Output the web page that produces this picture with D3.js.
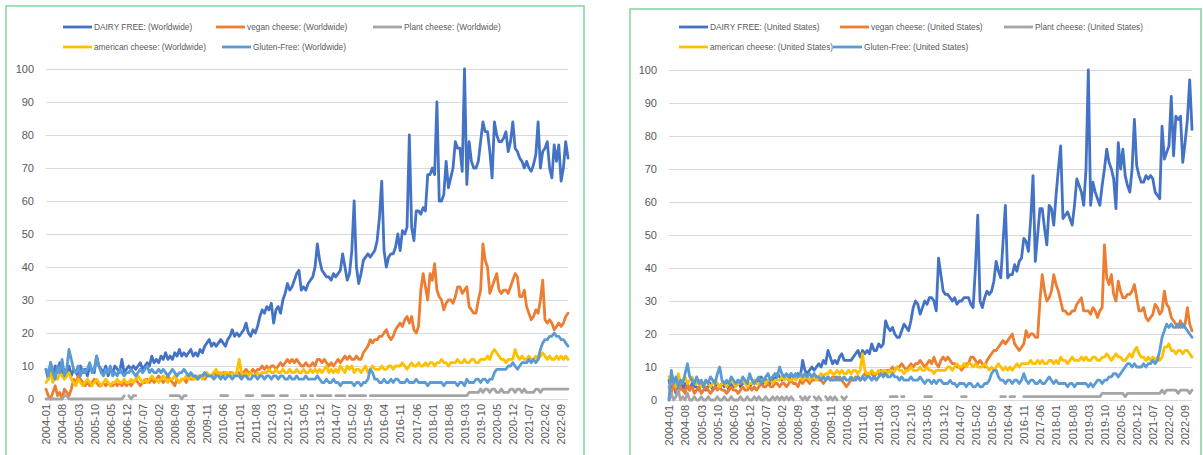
<!DOCTYPE html>
<html>
<head>
<meta charset="utf-8">
<script src="https://cdn.jsdelivr.net/npm/d3@7/dist/d3.min.js"></script>
<style>
  body { margin: 0; background: #fff; }
  svg { display: block; font-family: "Liberation Sans", Arial, sans-serif; }
  .axis .domain { display: none; }
  .axis--y line { stroke: #d9d9d9; }
  .axis text { fill: #595959; }
  .legend text { fill: #595959; font-size: 8.3px; }
  .series { fill: none; stroke-width: 2.8; stroke-linejoin: round; stroke-linecap: round; }
</style>
</head>
<body>
<svg id="chart" width="1203" height="455"></svg>
<script>
// monthly categories 2004-01 .. 2022-12
const months = d3.utcMonths(new Date(Date.UTC(2004, 0, 1)), new Date(Date.UTC(2023, 0, 1)))
  .map(d3.utcFormat('%Y-%m'));

const tickLabels = [
  '2004-01', '2004-08', '2005-03', '2005-10', '2006-05', '2006-12', '2007-07', '2008-02',
  '2008-09', '2009-04', '2009-11', '2010-06', '2011-01', '2011-08', '2012-03', '2012-10',
  '2013-05', '2013-12', '2014-07', '2015-02', '2015-09', '2016-04', '2016-11', '2017-06',
  '2018-01', '2018-08', '2019-03', '2019-10', '2020-05', '2020-12', '2021-07', '2022-02',
  '2022-09'
];
const yTicks = [0, 10, 20, 30, 40, 50, 60, 70, 80, 90, 100];

const seriesNames = ['DAIRY FREE', 'vegan cheese', 'Plant cheese', 'american cheese', 'Gluten-Free'];
const seriesColors = ['#4472C4', '#ED7D31', '#A5A5A5', '#FFC000', '#5B9BD5'];

// ---- Worldwide (one row per year) ----
const dairyFreeWorld = [
  9, 6, 11, 7, 10, 8, 11, 7, 9, 8, 10, 7,
  9, 8, 7, 10, 8, 9, 7, 10, 9, 8, 13, 10,
  9, 8, 10, 7, 9, 8, 10, 9, 8, 12, 8, 9,
  10, 9, 10, 9, 10, 11, 9, 10, 11, 10, 13, 11,
  12, 11, 13, 12, 14, 12, 13, 12, 14, 13, 15, 13,
  14, 13, 14, 15, 13, 14, 13, 15, 14, 16, 17, 18,
  16, 17, 16, 17, 18, 17, 16, 18, 19, 21, 19, 20,
  19, 20, 21, 23, 20, 19, 21, 20, 22, 25, 27, 26,
  28, 27, 29, 23, 27, 28, 26, 30, 32, 35, 33, 34,
  36, 38, 39, 33, 34, 33, 35, 36, 37, 40, 47, 42,
  39, 38, 37, 37, 36, 38, 37, 38, 39, 44, 40, 36,
  38, 45, 60, 40, 35, 38, 42, 43, 44, 43, 44, 45,
  48, 55, 66, 45, 40, 43, 44, 44, 46, 50, 45, 51,
  50, 52, 80, 52, 48, 57, 57, 56, 58, 57, 68, 68,
  70, 68, 90, 60, 60, 62, 72, 64, 67, 70, 78, 76,
  76, 69, 100, 65, 78, 72, 70, 70, 72, 78, 84, 81,
  81, 75, 67, 84, 80, 78, 78, 79, 81, 75, 78, 84,
  76, 75, 73, 72, 70, 72, 70, 69, 71, 74, 84, 70,
  75, 76, 78, 70, 67, 77, 72, 77, 66, 70, 78, 73
];
const veganWorld = [
  3, 1, 0, 2, 4, 1, 2, 0, 3, 2, 1, 3,
  6, 5, 7, 6, 5, 4, 5, 4, 5, 6, 5, 4,
  4, 5, 4, 5, 4, 4, 5, 4, 5, 4, 5, 4,
  5, 4, 5, 6, 5, 4, 5, 5, 6, 5, 6, 5,
  6, 7, 6, 5, 6, 7, 6, 5, 4, 6, 5, 6,
  6, 5, 7, 6, 6, 7, 6, 7, 7, 6, 7, 7,
  7, 8, 7, 8, 7, 8, 8, 7, 8, 8, 7, 8,
  8, 7, 8, 9, 8, 8, 9, 8, 9, 9, 10, 9,
  10, 9, 10, 10, 9, 10, 11, 10, 11, 12, 11, 12,
  11, 12, 11, 10, 10, 11, 10, 10, 11, 10, 12, 12,
  11, 12, 11, 10, 11, 10, 11, 12, 11, 12, 13, 12,
  13, 12, 12, 13, 12, 12, 14, 15, 16, 18, 17, 18,
  18, 19, 19, 20, 21, 19, 18, 19, 21, 22, 23, 22,
  24, 25, 23, 25, 21, 20, 22, 33, 38, 34, 30, 38,
  36, 41, 33, 31, 30, 27, 29, 30, 30, 29, 31, 34,
  34, 32, 33, 34, 28, 27, 26, 26, 30, 33, 47, 42,
  40, 32, 34, 36, 38, 33, 32, 33, 33, 32, 34, 36,
  38, 37, 31, 31, 33, 28, 26, 24, 25, 27, 26, 30,
  36, 24, 23, 24, 23, 21, 22, 23, 22, 23, 25, 26
];
const plantWorld = [
  0, 0, 0, 0, 0, 0, 0, 0, 1, 1, 0, 0,
  0, 0, 0, 0, 0, 0, 0, 0, 0, 0, 0, 0,
  0, 0, 0, 0, 0, 0, 0, 0, 0, 0, 1, null,
  1, 0, 1, 1, null, null, null, null, null, null, null, null,
  null, null, null, null, null, null, 1, 1, 1, 1, 1, 0,
  1, 1, null, null, null, null, null, null, null, null, null, null,
  null, null, null, null, 1, 1, 1, 1, null, null, null, null,
  null, null, null, 1, 1, 1, 1, null, null, null, 1, 1,
  1, 1, 1, 1, null, null, 1, 1, 1, 1, null, null,
  null, null, null, 1, 1, 1, null, 1, 1, null, 1, 1,
  1, 1, 1, 1, 1, null, 1, 1, 1, 1, 1, null,
  1, 1, 1, 1, 1, 1, 1, 1, null, 1, 1, 1,
  1, 1, 1, 1, 1, 1, 1, 1, 1, 1, 1, 1,
  1, 1, 1, 1, 1, 1, 1, 1, 1, 1, 1, 1,
  1, 1, 1, 1, 1, 1, 1, 1, 1, 1, 1, 1,
  1, 1, 1, 1, 2, 2, 2, 2, 2, 3, 2, 3,
  3, 2, 3, 3, 2, 2, 3, 2, 2, 2, 3, 3,
  2, 3, 3, 2, 3, 2, 2, 2, 2, 3, 3, 2,
  3, 3, 3, 3, 3, 3, 3, 3, 3, 3, 3, 3
];
const americanWorld = [
  5, 6, 8, 5, 7, 6, 8, 7, 6, 7, 8, 6,
  5, 4, 6, 5, 4, 5, 6, 5, 4, 5, 6, 5,
  4, 5, 6, 5, 4, 5, 5, 6, 5, 5, 6, 5,
  5, 6, 5, 6, 7, 6, 5, 6, 5, 6, 7, 6,
  6, 5, 6, 7, 6, 5, 6, 6, 7, 6, 5, 6,
  6, 7, 6, 7, 6, 6, 7, 7, 6, 7, 8, 7,
  7, 8, 9, 7, 8, 7, 8, 8, 7, 8, 7, 8,
  12, 8, 7, 8, 7, 8, 7, 7, 8, 7, 8, 8,
  8, 9, 8, 8, 9, 8, 8, 9, 8, 8, 9, 8,
  8, 9, 8, 8, 9, 8, 8, 9, 8, 9, 8, 9,
  8, 9, 10, 8, 9, 8, 9, 8, 10, 9, 8, 10,
  9, 10, 8, 9, 9, 8, 9, 10, 8, 9, 10, 9,
  9, 9, 10, 9, 9, 10, 10, 9, 10, 10, 10, 11,
  10, 9, 10, 11, 10, 10, 11, 10, 10, 11, 10, 11,
  11, 10, 11, 11, 12, 11, 11, 10, 11, 11, 11, 12,
  11, 11, 12, 11, 11, 12, 12, 11, 11, 12, 12, 12,
  13, 12, 14, 15, 14, 13, 12, 12, 11, 12, 12, 12,
  15, 13, 12, 13, 12, 12, 13, 12, 12, 13, 12, 13,
  14, 13, 12, 13, 12, 12, 13, 12, 13, 12, 13, 12
];
const glutenWorld = [
  9, 7, 11, 8, 6, 10, 8, 12, 7, 9, 15, 12,
  9, 8, 10, 7, 9, 8, 9, 11, 8, 9, 13, 10,
  8, 7, 9, 8, 10, 7, 8, 7, 9, 8, 7, 8,
  8, 9, 8, 7, 8, 9, 8, 9, 10, 8, 9, 8,
  8, 9, 8, 9, 8, 7, 8, 9, 8, 7, 8, 8,
  9, 8, 7, 8, 7, 7, 6, 7, 7, 8, 7, 7,
  7, 6, 7, 7, 6, 7, 6, 7, 7, 6, 7, 7,
  7, 6, 7, 7, 6, 6, 7, 7, 6, 7, 7, 6,
  7, 7, 6, 7, 7, 6, 7, 7, 6, 6, 7, 6,
  6, 7, 6, 6, 6, 7, 6, 6, 6, 6, 7, 6,
  5, 5, 6, 5, 5, 6, 5, 5, 4, 5, 5, 5,
  5, 5, 4, 5, 5, 4, 5, 5, 6, 9, 8, 6,
  6, 5, 5, 6, 5, 5, 6, 5, 6, 6, 5, 5,
  5, 6, 5, 5, 5, 6, 5, 5, 5, 5, 4, 5,
  5, 5, 5, 5, 5, 4, 5, 5, 5, 5, 5, 4,
  5, 5, 4, 6, 5, 5, 5, 6, 6, 5, 6, 6,
  5, 6, 6, 8, 9, 9, 9, 9, 9, 10, 10, 11,
  10, 9, 10, 11, 11, 11, 12, 11, 12, 11, 12, 15,
  17, 18, 18, 19, 19, 20, 19, 19, 18, 18, 17, 16
];

// ---- United States (one row per year) ----
const dairyFreeUS = [
  6, 3, 5, 2, 4, 6, 3, 5, 4, 3, 5, 4,
  4, 3, 5, 4, 3, 4, 5, 3, 4, 5, 4, 5,
  4, 5, 3, 5, 4, 5, 6, 4, 5, 6, 5, 4,
  5, 6, 5, 6, 7, 5, 6, 6, 5, 7, 6, 8,
  7, 6, 7, 7, 6, 8, 7, 7, 8, 7, 12, 9,
  8, 9, 10, 9, 10, 11, 10, 12, 11, 15, 13, 11,
  12, 11, 13, 14, 12, 12, 12, 12, 13, 14, 15, 13,
  15, 14, 15, 14, 17, 15, 15, 17, 16, 17, 24, 22,
  21, 22, 20, 19, 19, 21, 23, 22, 21, 24, 28, 30,
  29, 26, 28, 30, 29, 31, 31, 30, 27, 43, 38, 33,
  32, 32, 31, 30, 31, 29, 30, 30, 31, 31, 31, 29,
  28, 40, 56, 30, 28, 31, 33, 32, 33, 36, 42, 39,
  37, 48, 59, 37, 38, 38, 41, 39, 42, 43, 49, 48,
  45, 55, 68, 42, 50, 58, 58, 52, 47, 59, 58, 53,
  62, 70, 77, 55, 56, 57, 55, 53, 59, 67, 65, 63,
  59, 70, 100, 59, 66, 63, 61, 59, 65, 70, 76, 72,
  70, 67, 58, 78, 70, 76, 68, 65, 63, 70, 85, 71,
  68, 66, 66, 68, 67, 68, 67, 63, 62, 61, 83, 73,
  75, 77, 92, 74, 86, 85, 86, 72, 78, 85, 97, 82
];
const veganUS = [
  4, 2, 5, 3, 2, 4, 3, 2, 5, 3, 4, 2,
  3, 4, 2, 3, 4, 3, 2, 3, 4, 3, 4, 3,
  3, 2, 3, 4, 3, 3, 2, 3, 4, 3, 3, 4,
  3, 4, 3, 4, 5, 4, 4, 5, 4, 4, 5, 5,
  4, 5, 5, 4, 5, 6, 5, 5, 4, 6, 5, 6,
  6, 5, 6, 6, 7, 6, 6, 5, 6, 7, 6, 7,
  7, 6, 7, 6, 5, 4, 5, 6, 6, 7, 7, 6,
  7, 8, 7, 8, 8, 7, 8, 8, 9, 8, 9, 9,
  9, 10, 9, 10, 10, 11, 10, 9, 10, 11, 10, 11,
  11, 12, 11, 10, 11, 12, 11, 13, 11, 10, 12, 13,
  12, 13, 12, 11, 11, 10, 10, 9, 10, 11, 11, 13,
  13, 12, 11, 12, 11, 10, 12, 13, 14, 15, 15, 16,
  17, 18, 17, 18, 19, 20, 17, 16, 15, 16, 17, 21,
  19, 20, 20, 19, 19, 30, 38, 33, 30, 31, 33, 38,
  35, 33, 30, 27, 27, 26, 26, 27, 27, 29, 30, 31,
  27, 27, 27, 26, 28, 27, 25, 27, 28, 47, 37, 35,
  38, 32, 30, 36, 33, 31, 31, 32, 32, 33, 35, 31,
  27, 27, 28, 25, 24, 25, 26, 29, 28, 26, 27, 33,
  29, 28, 25, 24, 23, 22, 24, 22, 23, 28, 23, 21
];
const plantUS = [
  0, 2, 0, 1, 3, 0, 1, 0, 2, 0, 0, 1,
  0, 0, 1, 0, 0, 1, 0, 0, 0, 1, 0, 0,
  1, 0, 0, 1, 0, 0, 0, 1, 0, 0, 1, 0,
  0, 1, 0, 1, 0, 0, 1, 0, 0, 1, 0, 1,
  0, 1, 0, 1, 0, 1, 0, null, null, 1, 0, 1,
  0, 1, null, 1, 0, 1, 0, null, 1, 0, 1, 0,
  1, 0, null, 1, 0, 1, null, null, null, null, null, null,
  null, null, null, null, null, null, null, null, null, null, null, null,
  1, 1, 1, 1, null, 1, 1, null, null, null, null, null,
  null, null, null, 1, 1, 1, 1, null, null, null, null, null,
  null, null, null, null, null, null, null, 1, 1, 1, null, null,
  null, null, null, null, null, null, null, null, null, null, null, null,
  1, 1, 1, null, 1, 1, 1, null, null, null, 1, 1,
  1, 1, 1, 1, 1, 1, 1, 1, 1, 1, 1, 1,
  1, 1, 1, 1, 1, 1, 1, 1, 1, 1, 1, 1,
  1, 1, 1, 1, 1, 1, 1, 1, 2, 2, 2, 2,
  2, 2, 2, 2, 2, 2, 1, 2, 2, 2, 2, 2,
  2, 2, 2, 2, 2, 2, 2, 2, 2, 2, 3, 2,
  3, 3, 3, 3, 3, 2, 3, 3, 3, 3, 2, 3
];
const americanUS = [
  7, 5, 6, 4, 8, 5, 6, 7, 5, 6, 7, 5,
  5, 6, 4, 5, 6, 5, 4, 5, 6, 5, 4, 5,
  5, 4, 5, 6, 5, 4, 5, 5, 6, 5, 4, 5,
  5, 6, 5, 5, 6, 6, 5, 6, 6, 5, 6, 6,
  6, 7, 6, 7, 6, 6, 7, 6, 7, 7, 6, 7,
  7, 6, 7, 7, 6, 7, 8, 7, 8, 8, 9, 8,
  8, 9, 8, 9, 8, 8, 9, 8, 9, 9, 8, 9,
  14, 9, 8, 8, 9, 8, 8, 9, 8, 9, 9, 8,
  9, 8, 9, 10, 9, 9, 8, 9, 9, 10, 9, 9,
  9, 10, 9, 9, 10, 9, 9, 8, 9, 9, 9, 9,
  9, 10, 10, 9, 10, 11, 10, 10, 11, 10, 11, 11,
  10, 11, 10, 10, 10, 11, 10, 9, 10, 9, 10, 11,
  10, 9, 10, 9, 10, 9, 10, 11, 10, 11, 11, 11,
  11, 12, 11, 11, 12, 11, 12, 11, 11, 12, 12, 11,
  12, 11, 13, 12, 12, 11, 12, 13, 12, 12, 12, 13,
  12, 13, 12, 12, 13, 13, 12, 12, 13, 13, 14, 13,
  12, 13, 14, 13, 13, 12, 12, 13, 14, 13, 15, 16,
  14, 13, 13, 12, 13, 12, 13, 12, 13, 12, 13, 16,
  16, 17, 15, 15, 14, 15, 15, 14, 15, 15, 14, 13
];
const glutenUS = [
  0, 9, 5, 7, 4, 6, 5, 8, 11, 7, 6, 5,
  7, 5, 6, 4, 6, 5, 7, 6, 5, 8, 10, 6,
  5, 6, 5, 7, 6, 5, 6, 5, 7, 6, 5, 8,
  6, 5, 6, 7, 5, 6, 7, 8, 6, 7, 8, 7,
  10, 8, 7, 8, 7, 8, 7, 8, 7, 8, 7, 8,
  7, 8, 7, 8, 7, 7, 6, 7, 6, 7, 6, 6,
  6, 7, 6, 6, 7, 6, 6, 7, 6, 6, 7, 6,
  7, 6, 7, 7, 6, 7, 6, 7, 8, 7, 8, 7,
  7, 8, 7, 7, 6, 7, 6, 6, 6, 7, 6, 6,
  6, 7, 6, 5, 6, 6, 5, 6, 5, 6, 6, 5,
  5, 5, 6, 5, 5, 4, 5, 5, 5, 4, 5, 5,
  4, 4, 5, 4, 4, 5, 5, 6, 8, 9, 9, 7,
  6, 6, 5, 6, 6, 5, 6, 6, 5, 6, 8, 6,
  5, 6, 6, 5, 5, 6, 5, 5, 6, 7, 6, 5,
  6, 5, 5, 5, 5, 4, 5, 5, 4, 5, 5, 5,
  5, 5, 4, 5, 4, 5, 6, 6, 5, 6, 6, 7,
  7, 8, 8, 7, 8, 9, 10, 11, 11, 10, 11, 10,
  10, 10, 11, 10, 11, 11, 12, 11, 12, 15, 19, 21,
  23, 22, 23, 22, 22, 23, 22, 23, 22, 21, 20, 19
];

const panels = [
  {
    region: 'Worldwide',
    series: [dairyFreeWorld, veganWorld, plantWorld, americanWorld, glutenWorld],
    frame: { x: 6, y: 6, w: 578, h: 470 },
    plot: { left: 46, right: 568, top: 69, bottom: 399 },
    yLabelX: 34,
    legend: [[63, 27], [216, 27], [373, 27], [63, 47], [222, 47]]
  },
  {
    region: 'United States',
    series: [dairyFreeUS, veganUS, plantUS, americanUS, glutenUS],
    frame: { x: 630, y: 9, w: 571, h: 470 },
    plot: { left: 669, right: 1192, top: 70, bottom: 400 },
    yLabelX: 657,
    legend: [[679, 27], [840, 27], [1004, 27], [679, 47], [833, 47]]
  }
];

const svg = d3.select('#chart');

function drawPanel(p) {
  const g = svg.append('g').attr('class', 'panel');

  // green frame
  g.append('rect')
    .attr('x', p.frame.x)
    .attr('y', p.frame.y)
    .attr('width', p.frame.w)
    .attr('height', p.frame.h)
    .attr('fill', 'none')
    .attr('stroke', '#82d49a')
    .attr('stroke-width', 1.5);

  const x = d3.scalePoint()
    .domain(months)
    .range([p.plot.left, p.plot.right]);
  const y = d3.scaleLinear()
    .domain([0, 100])
    .range([p.plot.bottom, p.plot.top]);

  // y axis with gridlines
  const axisY = d3.axisLeft(y)
    .tickValues(yTicks)
    .tickSize(-(p.plot.right - p.plot.left))
    .tickPadding(p.plot.left - p.yLabelX);
  g.append('g')
    .attr('class', 'axis axis--y')
    .attr('transform', `translate(${p.plot.left},0)`)
    .call(axisY)
    .selectAll('text')
      .style('font-size', '11px');

  // x axis, rotated month labels
  const axisX = d3.axisBottom(x)
    .tickValues(tickLabels)
    .tickSize(0)
    .tickPadding(0);
  g.append('g')
    .attr('class', 'axis axis--x')
    .attr('transform', `translate(0,${p.plot.bottom})`)
    .call(axisX)
    .selectAll('text')
      .style('font-size', '11px')
      .attr('text-anchor', 'end')
      .attr('transform', 'translate(0,5) rotate(-90)')
      .attr('x', 0)
      .attr('y', 0)
      .attr('dy', '0.35em');

  // lines
  const line = d3.line()
    .defined(d => d != null)
    .x((d, i) => x(months[i]))
    .y(d => y(d));

  p.series.forEach((values, k) => {
    g.append('path')
      .datum(values)
      .attr('class', 'series')
      .attr('stroke', seriesColors[k])
      .attr('d', line);
  });

  // legend
  const legend = g.append('g').attr('class', 'legend');
  seriesNames.forEach((name, k) => {
    const [lx, ly] = p.legend[k];
    legend.append('line')
      .attr('x1', lx)
      .attr('x2', lx + 29)
      .attr('y1', ly)
      .attr('y2', ly)
      .attr('stroke', seriesColors[k])
      .attr('stroke-width', 2.8);
    legend.append('text')
      .attr('x', lx + 31)
      .attr('y', ly)
      .attr('dy', '0.35em')
      .text(`${name}: (${p.region})`);
  });
}

panels.forEach(drawPanel);
</script>
</body>
</html>
